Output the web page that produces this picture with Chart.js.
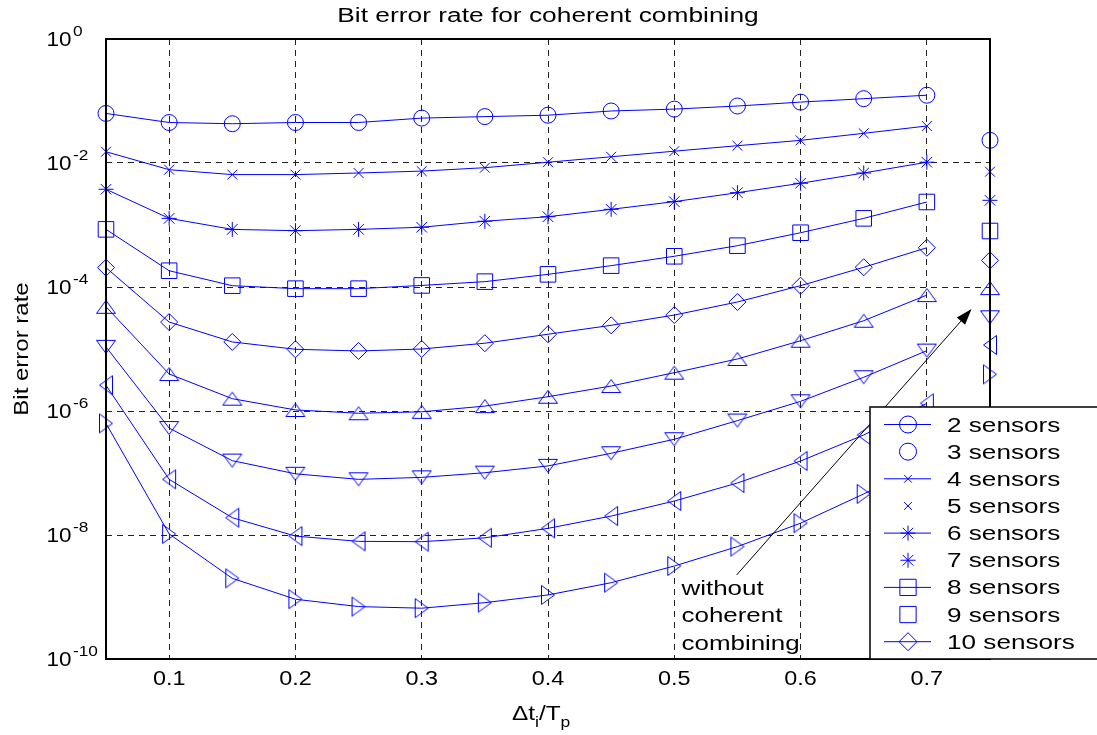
<!DOCTYPE html>
<html>
<head>
<meta charset="utf-8">
<title>Bit error rate for coherent combining</title>
<script src="https://cdn.jsdelivr.net/npm/chart.js@4.4.1/dist/chart.umd.min.js"></script>
<style>
  html, body { margin: 0; padding: 0; background: #fff; }
  canvas { display: block; }
</style>
</head>
<body>
<canvas id="berChart" width="1097" height="735"></canvas>
<script>
// ---------------------------------------------------------------
// Data
// ---------------------------------------------------------------
const xValues = [0.05, 0.10, 0.15, 0.20, 0.25, 0.30, 0.35, 0.40, 0.45, 0.50, 0.55, 0.60, 0.65, 0.70];
const xTicks = [0.1, 0.2, 0.3, 0.4, 0.5, 0.6, 0.7];
const yTickPowers = [0, -2, -4, -6, -8, -10];

const berCircle   = [0.063, 0.045, 0.043, 0.045, 0.045, 0.053, 0.056, 0.059, 0.069, 0.074, 0.083, 0.096, 0.109, 0.124];
const berCross    = [0.0152, 0.0078, 0.0065, 0.0065, 0.0069, 0.0074, 0.0084, 0.0103, 0.0126, 0.0155, 0.019, 0.0232, 0.0301, 0.0395];
const berStar     = [0.00377, 0.00128, 0.00085, 0.00081, 0.00085, 0.00092, 0.00115, 0.00136, 0.00179, 0.00238, 0.00332, 0.00471, 0.0069, 0.0103];
const berSquare   = [8.5e-4, 1.83e-4, 1.05e-4, 9.4e-5, 9.4e-5, 1.06e-4, 1.22e-4, 1.6e-4, 2.21e-4, 3.13e-4, 4.64e-4, 7.5e-4, 1.28e-3, 2.35e-3];
const berDiamond  = [2.05e-4, 2.72e-5, 1.3e-5, 9.9e-6, 9.3e-6, 1.0e-5, 1.24e-5, 1.73e-5, 2.41e-5, 3.53e-5, 5.73e-5, 1.05e-4, 2.08e-4, 4.3e-4];
const berTriUp    = [4.8e-5, 3.95e-6, 1.58e-6, 1.04e-6, 9.2e-7, 9.7e-7, 1.2e-6, 1.7e-6, 2.53e-6, 4.15e-6, 6.9e-6, 1.36e-5, 2.86e-5, 7.4e-5];
const berTriDown  = [1.08e-5, 5.3e-7, 1.58e-7, 9.7e-8, 7.9e-8, 8.5e-8, 1.01e-7, 1.3e-7, 2.08e-7, 3.5e-7, 7.0e-7, 1.43e-6, 3.5e-6, 9.4e-6];
const berTriLeft  = [2.6e-6, 7.9e-8, 1.9e-8, 9.6e-9, 7.9e-9, 7.8e-9, 9.0e-9, 1.28e-8, 2.02e-8, 3.53e-8, 6.9e-8, 1.56e-7, 4.1e-7, 1.33e-6];
const berTriRight = [6.3e-7, 1.04e-8, 2.0e-9, 9.2e-10, 7.0e-10, 6.6e-10, 8.1e-10, 1.08e-9, 1.7e-9, 3.16e-9, 6.5e-9, 1.55e-8, 4.6e-8, 1.5e-7];

// single points "without coherent combining", one per curve, at x = 0.75
const noCombiningX = 0.75;
const noCombiningBer = [0.0232, 0.00724, 0.0025, 0.0008, 2.69e-4, 9.6e-5, 3.24e-5, 1.16e-5, 3.9e-6];

const legendLabels = ["2 sensors", "3 sensors", "4 sensors", "5 sensors", "6 sensors",
                      "7 sensors", "8 sensors", "9 sensors", "10 sensors"];

// ---------------------------------------------------------------
// Styles
// ---------------------------------------------------------------
const BLUE = "#0000ff";
const FONT = '"Liberation Sans", Arial, sans-serif';

// MATLAB style flat triangle, drawn once and rotated for v < >
function makeTriangle() {
  const c = document.createElement("canvas");
  c.width = 22;
  c.height = 16;
  const g = c.getContext("2d");
  g.strokeStyle = BLUE;
  g.lineWidth = 1;
  g.beginPath();
  g.moveTo(11, 1.5);
  g.lineTo(20.5, 14.5);
  g.lineTo(1.5, 14.5);
  g.closePath();
  g.stroke();
  return c;
}
const triangleImg = makeTriangle();

const curveSeries = [berCircle, berCross, berStar, berSquare, berDiamond,
                     berTriUp, berTriDown, berTriLeft, berTriRight];
const curveMarkers = [
  { style: "circle", radius: 8, rotation: 0 },
  { style: "crossRot", radius: 7, rotation: 0 },
  { style: "star", radius: 7.5, rotation: 0 },
  { style: "rect", radius: 11, rotation: 0 },
  { style: "rectRot", radius: 8.5, rotation: 0 },
  { style: triangleImg, radius: 9, rotation: 0 },
  { style: triangleImg, radius: 9, rotation: 180 },
  { style: triangleImg, radius: 9, rotation: 270 },
  { style: triangleImg, radius: 9, rotation: 90 },
];

// legend: MATLAB took the first nine handles (curve, lone point, curve, ...)
const legendMarkers = ["circle", "circle", "crossRot", "crossRot", "star", "star", "rect", "rect", "rectRot"];
const legendRadius = [8.5, 8.5, 5.5, 5.5, 7.5, 7.5, 11.5, 11.5, 9];
const legendHasLine = [true, false, true, false, true, false, true, false, true];

// ---------------------------------------------------------------
// Datasets
// ---------------------------------------------------------------
const datasets = [];
curveSeries.forEach((ser, i) => {
  const m = curveMarkers[i];
  datasets.push({
    data: xValues.map((x, j) => ({ x: x, y: ser[j] })),
    borderColor: BLUE,
    borderWidth: 1,
    tension: 0,
    pointStyle: m.style,
    pointRadius: m.radius,
    pointRotation: m.rotation,
    pointBorderColor: BLUE,
    pointBorderWidth: 1,
    pointBackgroundColor: "rgba(0,0,0,0)",
    clip: false,
  });
});
noCombiningBer.forEach((v, i) => {
  const m = curveMarkers[i];
  datasets.push({
    data: [{ x: noCombiningX, y: v }],
    showLine: false,
    pointStyle: m.style,
    pointRadius: m.radius,
    pointRotation: m.rotation,
    pointBorderColor: BLUE,
    pointBorderWidth: 1,
    pointBackgroundColor: "rgba(0,0,0,0)",
    clip: false,
  });
});

// ---------------------------------------------------------------
// Text helper (the reference glyphs are wide, so stretch horizontally)
// ---------------------------------------------------------------
function stretchText(ctx, str, x, y, size, sx, align) {
  ctx.save();
  ctx.font = size + "px " + FONT;
  ctx.fillStyle = "#000";
  ctx.textAlign = align || "left";
  ctx.textBaseline = "alphabetic";
  ctx.translate(x, y);
  ctx.scale(sx, 1);
  ctx.fillText(str, 0, 0);
  ctx.restore();
}

function marker(ctx, style, radius, x, y) {
  ctx.save();
  ctx.strokeStyle = BLUE;
  ctx.fillStyle = "rgba(0,0,0,0)";
  ctx.lineWidth = 1;
  Chart.helpers.drawPoint(ctx, { pointStyle: style, radius: radius, rotation: 0, borderWidth: 1 }, x, y);
  ctx.restore();
}

// ---------------------------------------------------------------
// Frame, labels, annotation and legend
// ---------------------------------------------------------------
const overlayPlugin = {
  id: "overlay",
  afterDatasetsDraw(chart) {
    const ctx = chart.ctx;
    const a = chart.chartArea;
    const xs = chart.scales.x;
    const ys = chart.scales.y;

    // axes box
    ctx.save();
    ctx.strokeStyle = "#000";
    ctx.lineWidth = 2;
    ctx.strokeRect(a.left, a.top, a.right - a.left, a.bottom - a.top);
    ctx.restore();

    // title
    stretchText(ctx, "Bit error rate for coherent combining", (a.left + a.right) / 2, 22, 19.5, 1.35, "center");

    // x tick labels
    xTicks.forEach((v) => {
      stretchText(ctx, v.toFixed(1), xs.getPixelForValue(v), 685, 19.5, 1.2, "center");
    });

    // y tick labels 10^n
    yTickPowers.forEach((p) => {
      const py = ys.getPixelForValue(Math.pow(10, p));
      stretchText(ctx, "10", 46.5, py + 7, 19.5, 1.15, "left");
      stretchText(ctx, String(p), 73, py - 3.5, 15, 1.15, "left");
    });

    // y axis title
    ctx.save();
    ctx.translate(28, (a.top + a.bottom) / 2);
    ctx.rotate(-Math.PI / 2);
    stretchText(ctx, "Bit error rate", 0, 0, 19.5, 1.23, "center");
    ctx.restore();

    // x axis title: Δt_i / T_p
    let cx = 512;
    const by = 720;
    ctx.save();
    ctx.font = "19.5px " + FONT;
    const wDt = ctx.measureText("\u0394t").width * 1.25;
    const wT = ctx.measureText("/T").width * 1.25;
    ctx.font = "14px " + FONT;
    const wi = ctx.measureText("i").width * 1.25;
    ctx.restore();
    stretchText(ctx, "\u0394t", cx, by, 19.5, 1.25, "left");
    cx += wDt;
    stretchText(ctx, "i", cx, by + 7, 14, 1.25, "left");
    cx += wi;
    stretchText(ctx, "/T", cx, by, 19.5, 1.25, "left");
    cx += wT;
    stretchText(ctx, "p", cx, by + 7, 14, 1.25, "left");

    // annotation: arrow + text
    const tailX = xs.getPixelForValue(0.5494), tailY = ys.getPixelForValue(2.27e-9);
    const tipX = xs.getPixelForValue(0.7354), tipY = ys.getPixelForValue(4.4e-5);
    const ang = Math.atan2(tipY - tailY, tipX - tailX);
    const headLen = 16, headW = 5.5;
    ctx.save();
    ctx.strokeStyle = "#000";
    ctx.fillStyle = "#000";
    ctx.lineWidth = 1;
    ctx.beginPath();
    ctx.moveTo(tailX, tailY);
    ctx.lineTo(tipX - Math.cos(ang) * headLen, tipY - Math.sin(ang) * headLen);
    ctx.stroke();
    ctx.beginPath();
    ctx.moveTo(tipX, tipY);
    ctx.lineTo(tipX - Math.cos(ang) * headLen - Math.sin(ang) * headW,
               tipY - Math.sin(ang) * headLen + Math.cos(ang) * headW);
    ctx.lineTo(tipX - Math.cos(ang) * headLen + Math.sin(ang) * headW,
               tipY - Math.sin(ang) * headLen - Math.cos(ang) * headW);
    ctx.closePath();
    ctx.fill();
    ctx.restore();

    const tx = xs.getPixelForValue(0.5057);
    ["without", "coherent", "combining"].forEach((s, i) => {
      stretchText(ctx, s, tx, 595 + i * 27.3, 19.5, 1.33, "left");
    });

    // legend box (sticks out of the axes, cut by the figure edge)
    const lx = a.right - 120, ly = 407;
    ctx.save();
    ctx.fillStyle = "#fff";
    ctx.fillRect(lx, ly, 300, a.bottom - ly);
    ctx.strokeStyle = "#000";
    ctx.lineWidth = 1.5;
    ctx.strokeRect(lx, ly, 300, a.bottom - ly);
    ctx.restore();

    legendLabels.forEach((lab, i) => {
      const ey = 424.5 + i * 27.15;
      if (legendHasLine[i]) {
        ctx.save();
        ctx.strokeStyle = BLUE;
        ctx.lineWidth = 1;
        ctx.beginPath();
        ctx.moveTo(lx + 14, ey);
        ctx.lineTo(lx + 61, ey);
        ctx.stroke();
        ctx.restore();
      }
      marker(ctx, legendMarkers[i], legendRadius[i], lx + 38, ey);
      stretchText(ctx, lab, lx + 77, ey + 7, 19.5, 1.34, "left");
    });
  },
};

// ---------------------------------------------------------------
// Chart
// ---------------------------------------------------------------
const ctx = document.getElementById("berChart").getContext("2d");
const berChart = new Chart(ctx, {
  type: "line",
  data: { datasets: datasets },
  options: {
    responsive: false,
    animation: false,
    events: [],
    layout: { padding: { left: 106, right: 107, top: 39, bottom: 76 } },
    plugins: {
      legend: { display: false },
      title: { display: false },
      tooltip: { enabled: false },
    },
    scales: {
      x: {
        type: "linear",
        min: 0.05,
        max: 0.75,
        afterBuildTicks: (scale) => {
          scale.ticks = xTicks.map((v) => ({ value: v }));
        },
        ticks: { display: false },
        grid: { color: "#222", lineWidth: 1, drawTicks: false, tickLength: 0 },
        border: { display: false, dash: [6, 5] },
      },
      y: {
        type: "logarithmic",
        min: 1e-10,
        max: 1,
        afterBuildTicks: (scale) => {
          scale.ticks = yTickPowers.map((p) => ({ value: Math.pow(10, p) }));
        },
        ticks: { display: false },
        grid: { color: "#222", lineWidth: 1, drawTicks: false, tickLength: 0 },
        border: { display: false, dash: [6, 5] },
      },
    },
  },
  plugins: [overlayPlugin],
});
</script>
</body>
</html>
